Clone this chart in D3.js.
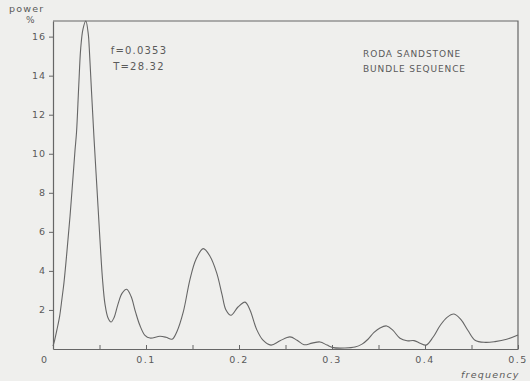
<!DOCTYPE html>
<html>
<head>
<meta charset="utf-8">
<script src="https://cdn.jsdelivr.net/npm/d3@7"></script>
<style>
  html, body { margin: 0; padding: 0; background: #efefed; }
  svg { display: block; }
  text { font-family: "DejaVu Sans", "Liberation Sans", sans-serif; fill: #5a5a5a; }
</style>
</head>
<body>
<svg id="chart" width="530" height="381"></svg>
<script>
// Power spectrum of the Roda Sandstone bundle sequence
const frequency = [0, 0.0018, 0.0043, 0.0072, 0.0097, 0.0118, 0.015, 0.0183, 0.0215, 0.0237,
  0.0253, 0.0277, 0.0298, 0.0323, 0.0353, 0.038, 0.039, 0.0414, 0.0441, 0.0473,
  0.0505, 0.0532, 0.0559, 0.0591, 0.0624, 0.0656,
  0.0699, 0.0742, 0.0792, 0.0839, 0.0887, 0.0935, 0.0989, 0.1043, 0.115, 0.1215,
  0.128, 0.1333, 0.1401, 0.1473, 0.1538, 0.1616, 0.1688, 0.176, 0.1817, 0.186,
  0.1914, 0.1989, 0.2065, 0.2118, 0.219, 0.2258, 0.2344, 0.2441, 0.2548, 0.2624,
  0.2699, 0.2785, 0.2871, 0.2946, 0.3011, 0.314, 0.3247, 0.3323, 0.3387, 0.3452,
  0.3516, 0.3588, 0.3656, 0.3731, 0.3806, 0.3882, 0.3946, 0.4011, 0.4086, 0.4161,
  0.4237, 0.4312, 0.4387, 0.4462, 0.4538, 0.4645, 0.4753, 0.4878, 0.5];
const power = [0.15, 0.46, 1.0, 1.7, 2.6, 3.4, 5.0, 6.8, 8.8, 10.2,
  11.1, 13.5, 15.4, 16.4, 16.8, 16.1, 15.4, 13.2, 10.8, 8.2,
  5.6, 3.6, 2.3, 1.6, 1.38, 1.6,
  2.3, 2.85, 3.06, 2.7, 1.9, 1.2, 0.7, 0.56, 0.65, 0.6,
  0.5, 0.9, 1.9, 3.57, 4.6, 5.14, 4.75, 3.9, 2.8, 2.0,
  1.73, 2.15, 2.4, 2.0, 1.0, 0.45, 0.2, 0.42, 0.62, 0.45,
  0.22, 0.3, 0.36, 0.2, 0.07, 0.05, 0.1, 0.25, 0.5, 0.85,
  1.08, 1.18, 0.95, 0.55, 0.42, 0.43, 0.3, 0.2, 0.6, 1.19,
  1.62, 1.79, 1.5, 0.95, 0.45, 0.34, 0.38, 0.5, 0.72];

const xTicks = [0.05, 0.1, 0.15, 0.2, 0.25, 0.3, 0.35, 0.4, 0.45, 0.5];
const xTickLabels = ["0.1", "0.2", "0.3", "0.4", "0.5"];
const yTicks = [2, 4, 6, 8, 10, 12, 14, 16];
const notes = ["f=0.0353", "T=28.32"];
const title = ["RODA SANDSTONE", "BUNDLE SEQUENCE"];

const svg = d3.select("#chart");
const ink = "#666";
const plotLeft = 53, plotRight = 518, plotTop = 21, plotBottom = 349;

const x = d3.scaleLinear().domain([0, 0.5]).range([plotLeft, plotRight]);
const y = d3.scaleLinear().domain([0, 16.8]).range([plotBottom, plotTop]);

// frame: top and right edges
svg.append("path")
  .attr("d", `M${plotLeft},${plotTop}H${plotRight}V${plotBottom}`)
  .attr("fill", "none").attr("stroke", ink).attr("stroke-width", 1.2);

// x axis: inward ticks every 0.05, labels every 0.1
const xAxis = d3.axisBottom(x).tickValues(xTicks).tickSizeInner(-4).tickSizeOuter(0)
  .tickFormat(() => "");
const gx = svg.append("g").attr("transform", `translate(0,${plotBottom})`).call(xAxis);
gx.select(".domain").attr("stroke", ink).attr("stroke-width", 1.2);
gx.selectAll(".tick line").attr("stroke", ink);

svg.append("g").selectAll("text").data(xTickLabels).join("text")
  .attr("x", d => x(+d)).attr("y", 363)
  .attr("text-anchor", "middle")
  .attr("font-size", 9.5).attr("letter-spacing", 1.5)
  .text(d => d);
svg.append("text").attr("x", 44).attr("y", 363).attr("text-anchor", "middle")
  .attr("font-size", 9.5).text("0");

// y axis: outward ticks
const yAxis = d3.axisLeft(y).tickValues(yTicks).tickSizeInner(4).tickSizeOuter(0)
  .tickPadding(3).tickFormat(d3.format("d"));
const gy = svg.append("g").attr("transform", `translate(${plotLeft},0)`).call(yAxis);
gy.select(".domain").attr("stroke", ink).attr("stroke-width", 1.2);
gy.selectAll(".tick line").attr("stroke", ink);
gy.selectAll(".tick text")
  .attr("font-family", "DejaVu Sans, sans-serif")
  .attr("font-size", 9.5).attr("letter-spacing", 1).attr("fill", "#5a5a5a");

// axis titles
svg.append("text").attr("x", 9).attr("y", 12).attr("font-size", 9.5)
  .attr("letter-spacing", 1.2).text("power");
svg.append("text").attr("x", 26).attr("y", 23).attr("font-size", 9).text("%");
svg.append("text").attr("x", 461).attr("y", 378).attr("font-size", 9.5)
  .attr("letter-spacing", 1.2).attr("font-style", "italic").text("frequency");

// spectrum curve
const pts = frequency.map((f, i) => [f, power[i]]);
svg.append("path").datum(pts)
  .attr("fill", "none").attr("stroke", ink).attr("stroke-width", 1.1)
  .attr("d", d3.line().x(d => x(d[0])).y(d => y(d[1])).curve(d3.curveCatmullRom.alpha(0.5)));

// peak annotation
svg.append("g").selectAll("text").data(notes).join("text")
  .attr("x", 139).attr("y", (d, i) => 54 + i * 16)
  .attr("text-anchor", "middle").attr("font-size", 10).attr("letter-spacing", 1.2)
  .text(d => d);

// series title
svg.append("g").selectAll("text").data(title).join("text")
  .attr("x", 363).attr("y", (d, i) => 57 + i * 15)
  .attr("font-size", 9).attr("letter-spacing", 0.9)
  .text(d => d);
</script>
</body>
</html>
